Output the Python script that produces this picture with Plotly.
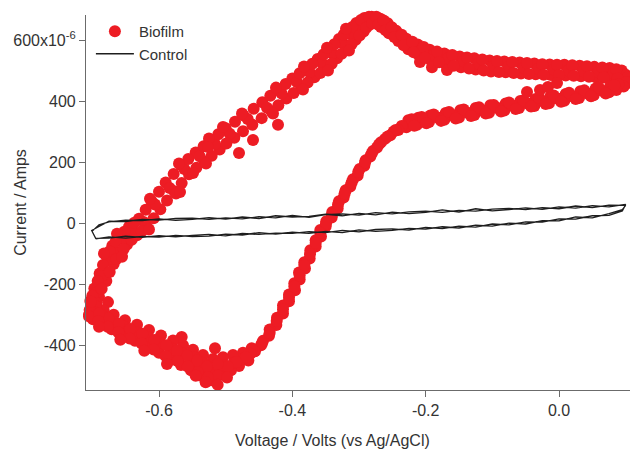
import plotly.graph_objects as go

# Cyclic voltammogram: biofilm electrode (markers) vs. bare control electrode (line)
# Potential in V vs Ag/AgCl, current in microamps (axis labelled x10^-6 A)

# --- Biofilm: anodic sweep, -0.70 V -> +0.10 V (upper branch with the oxidation peak)
biofilm_anodic_v = [
    -0.703, -0.699, -0.705, -0.697,
    -0.697, -0.690, -0.694,
    -0.689, -0.679, -0.685,
    -0.679, -0.668, -0.672,
    -0.670, -0.659, -0.665,
    -0.660, -0.648, -0.655,
    -0.645, -0.633, -0.640,
    -0.630, -0.618, -0.623,
    -0.611, -0.598, -0.606,
    -0.590, -0.577, -0.584,
    -0.567, -0.555, -0.562,
    -0.545, -0.532, -0.539,
    -0.523, -0.509, -0.516,
    -0.500, -0.487, -0.494, -0.480,
    -0.473, -0.460, -0.467,
    -0.445, -0.431, -0.438, -0.4215,
    -0.422, -0.409, -0.416,
    -0.400, -0.386, -0.393,
    -0.380, -0.367, -0.374,
    -0.362, -0.349, -0.355,
    -0.345, -0.333, -0.340,
    -0.330, -0.318, -0.324,
    -0.316, -0.305, -0.311,
    -0.304, -0.293, -0.299,
    -0.292, -0.284, -0.288,
    -0.281, -0.276, -0.272,
    -0.268, -0.267, -0.262,
    -0.257, -0.255, -0.251,
    -0.244, -0.241, -0.238,
    -0.229, -0.226, -0.222,
    -0.212, -0.210, -0.206, -0.2085,
    -0.194, -0.192, -0.188, -0.1905,
    -0.172, -0.170, -0.166, -0.168,
    -0.149, -0.147, -0.143,
    -0.127, -0.125, -0.121,
    -0.104, -0.102, -0.098,
    -0.082, -0.080, -0.076,
    -0.059, -0.057, -0.053,
    -0.037, -0.035, -0.031,
    -0.014, -0.012, -0.008,
    0.008, 0.010, 0.014,
    0.031, 0.033, 0.037,
    0.053, 0.055, 0.059,
    0.076, 0.078, 0.082,
    0.094, 0.097, 0.100,
    0.103, 0.104,
]
biofilm_anodic_i = [
    -255, -285, -300, -262,
    -214, -241, -228,
    -165, -190, -172,
    -108, -134, -118,
    -74, -101, -92,
    -43, -70, -52,
    -12, -40, -23,
    14, -13, 4,
    72, 45, 61,
    133, 104, 115,
    190, 160, 177,
    231, 202, 219,
    270, 241, 259,
    311, 280, 293, 230,
    353, 322, 341,
    396, 366, 378, 322,
    438, 408, 425,
    474, 445, 462,
    507, 478, 494,
    538, 506, 523,
    570, 540, 556,
    603, 572, 589,
    631, 601, 618,
    656, 628, 645,
    672, 650, 662,
    676, 658, 671,
    670, 643, 660,
    655, 622, 640,
    630, 597, 612,
    604, 570, 590,
    585, 550, 566, 528,
    568, 534, 552, 511,
    556, 521, 540, 502,
    546, 511, 530,
    540, 503, 522,
    533, 497, 516,
    530, 494, 512,
    526, 490, 509,
    523, 488, 506,
    520, 485, 503,
    519, 484, 500,
    516, 481, 497,
    512, 478, 494,
    508, 476, 490,
    500, 472, 486,
    478, 460,
]
# further anodic-sweep samples lying between the ones above
biofilm_anodic_fill_v = [
    -0.700, -0.694, -0.692, -0.686, -0.684, -0.674, -0.674, -0.664,
    -0.665, -0.653, -0.652, -0.641, -0.637, -0.626, -0.620, -0.608,
    -0.600, -0.588, -0.578, -0.566, -0.556, -0.544, -0.533, -0.521,
    -0.511, -0.499, -0.486, -0.474, -0.458, -0.446, -0.433, -0.421,
    -0.410, -0.398, -0.389, -0.377, -0.370, -0.358, -0.353, -0.341,
    -0.337, -0.326, -0.323, -0.311, -0.310, -0.299, -0.297, -0.289,
    -0.285, -0.280, -0.274, -0.271, -0.263, -0.260, -0.251, -0.247,
    -0.236, -0.233, -0.220, -0.218, -0.203, -0.201, -0.183, -0.180,
    -0.160, -0.158, -0.138, -0.135, -0.115, -0.113, -0.093, -0.090,
    -0.070, -0.068, -0.048, -0.045, -0.025, -0.023, -0.003, 0.000,
    0.020, 0.022, 0.042, 0.045, 0.065, 0.067, 0.086, 0.088,
]
biofilm_anodic_fill_i = [
    -238, -262, -190, -215, -137, -160, -92, -118,
    -60, -85, -28, -55, 1, -27, 44, 16,
    103, 74, 161, 131, 210, 181, 252, 221,
    291, 261, 332, 301, 375, 344, 417, 386,
    456, 426, 491, 461, 522, 492, 553, 522,
    586, 555, 617, 587, 643, 615, 666, 640,
    676, 655, 676, 650, 664, 632, 642, 610,
    617, 583, 594, 560, 577, 542, 562, 527,
    551, 516, 543, 507, 536, 500, 531, 495,
    528, 492, 525, 489, 521, 486, 519, 485,
    517, 483, 514, 480, 510, 477, 504, 474,
]
# scattered samples on both edges of the rising anodic branch
biofilm_anodic_edge_v = [
    -0.6825, -0.663, -0.6135, -0.570, -0.525, -0.4755, -0.4245, -0.3825,
    -0.348, -0.3195, -0.504, -0.5265,
    -0.6555, -0.615, -0.5745, -0.5295, -0.429, -0.384, -0.3465, -0.315,
    -0.459, -0.549, -0.5685,
]
biofilm_anodic_edge_i = [
    -100, -35, 80, 195, 277, 359, 444, 513,
    575, 637, 315, 249,
    -110, -21, 97, 195, 359, 438, 500, 566,
    272, 164, 102,
]

# --- Biofilm: cathodic sweep, flat part near +0.1 V back to about -0.23 V
biofilm_return_v = [
    0.101, 0.097, 0.089, 0.086, 0.077, 0.075, 0.055, 0.052,
    0.032, 0.030, 0.010, 0.008, -0.013, -0.015, -0.035, -0.037,
    -0.058, -0.060, -0.080, -0.082, -0.103, -0.105, -0.125, -0.127,
    -0.148, -0.150, -0.170, -0.172, -0.193, -0.195, -0.211, -0.213,
    -0.226, -0.229,
    0.065, 0.043, 0.020, -0.002, -0.025, -0.047, -0.070, -0.092,
    -0.115, -0.137, -0.160, -0.182, -0.203, -0.219,
    0.083, 0.060, 0.038, 0.015, -0.008, -0.030, -0.053, -0.075,
    -0.098, -0.120, -0.143, -0.165, -0.188, -0.206, -0.221,
    0.070, 0.048, 0.025, 0.003, -0.020, -0.042, -0.065, -0.087,
    -0.110, -0.132, -0.155, -0.177, -0.199, -0.217,
    -0.048, -0.0285, -0.0165, -0.003,
]
biofilm_return_i = [
    462, 448, 455, 436, 449, 429, 441, 419,
    432, 410, 423, 401, 415, 393, 407, 384,
    400, 377, 392, 369, 386, 362, 377, 354,
    370, 346, 361, 339, 353, 331, 345, 322,
    337, 314,
    434, 425, 416, 408, 400, 392, 385, 377,
    370, 362, 354, 346, 338, 330,
    452, 444, 435, 427, 418, 410, 402, 395,
    387, 380, 372, 364, 356, 348, 340,
    425, 416, 407, 398, 390, 382, 374, 366,
    359, 351, 343, 335, 327, 319,
    430, 436, 446, 459,
]

# --- Biofilm: cathodic sweep, steep reduction branch
biofilm_reduction_v = [
    -0.236, -0.241, -0.248, -0.253, -0.261, -0.267, -0.273, -0.279,
    -0.283, -0.290, -0.292, -0.299, -0.302, -0.309, -0.313, -0.320,
    -0.323, -0.330, -0.332, -0.340, -0.341, -0.349, -0.350, -0.358,
    -0.357, -0.365, -0.365, -0.373, -0.374, -0.382, -0.381, -0.390,
    -0.389, -0.397, -0.396, -0.405, -0.405, -0.414, -0.414, -0.423,
    -0.424, -0.434, -0.435, -0.444, -0.447, -0.456,
    -0.245, -0.257, -0.270, -0.281, -0.291, -0.301, -0.311, -0.3215,
    -0.3315, -0.3405, -0.3495, -0.358, -0.365, -0.3735, -0.382, -0.389,
    -0.397, -0.405, -0.414, -0.4235, -0.434, -0.4455, -0.457,
]
biofilm_reduction_i = [
    318, 305, 300, 288, 276, 265, 248, 236,
    218, 206, 188, 177, 156, 144, 120, 108,
    84, 72, 48, 36, 18, 6, -11, -23,
    -44, -56, -77, -89, -116, -128, -149, -162,
    -185, -197, -220, -234, -256, -270, -296, -310,
    -334, -349, -369, -386, -400, -420,
    305, 284, 258, 228, 199, 168, 133, 97,
    61, 28, -1, -32, -65, -101, -137, -172,
    -208, -244, -282, -321, -359, -394, -420,
]

# --- Biofilm: broad reduction trough back towards -0.70 V
biofilm_trough_v = [
    -0.461, -0.466, -0.463,
    -0.474, -0.480, -0.477,
    -0.489, -0.492, -0.488,
    -0.504, -0.507, -0.503, -0.509,
    -0.519, -0.522, -0.518, -0.524, -0.516,
    -0.534, -0.537, -0.533, -0.538,
    -0.549, -0.552, -0.548, -0.553,
    -0.564, -0.567, -0.563, -0.566,
    -0.579, -0.582, -0.580,
    -0.597, -0.600, -0.598,
    -0.615, -0.618, -0.616,
    -0.633, -0.636, -0.634,
    -0.651, -0.654, -0.652,
    -0.668, -0.671, -0.669, -0.6765,
    -0.683, -0.686, -0.684,
    -0.695, -0.699, -0.696,
    -0.704, -0.702, -0.705,
    -0.470, -0.484, -0.497, -0.512, -0.5115, -0.528, -0.527, -0.543,
    -0.542, -0.558, -0.557, -0.573, -0.572, -0.589, -0.590, -0.607,
    -0.608, -0.625, -0.626, -0.643, -0.644, -0.660, -0.661, -0.676,
    -0.677, -0.690, -0.691,
    -0.498, -0.530, -0.545, -0.512, -0.588, -0.622, -0.658, -0.690,
]
biofilm_trough_i = [
    -410, -450, -428,
    -425, -468, -446,
    -432, -482, -458,
    -440, -494, -465, -480,
    -445, -515, -472, -495, -410,
    -432, -500, -460, -478,
    -415, -482, -440, -460,
    -400, -465, -428, -373,
    -385, -448, -412,
    -368, -425, -392,
    -350, -405, -375,
    -333, -386, -358,
    -318, -368, -340,
    -300, -348, -322, -259,
    -285, -330, -305,
    -272, -315, -292,
    -285, -258, -305,
    -440, -455, -470, -462, -500, -470, -505, -450,
    -488, -435, -470, -418, -452, -400, -436, -383,
    -414, -363, -395, -347, -378, -330, -358, -312,
    -340, -296, -322,
    -506, -522, -500, -530, -462, -418, -382, -340,
]

# --- Control electrode: two cycles on a shared potential grid
ctrl_fwd_v = [
    -0.701, -0.690, -0.675, -0.650, -0.625, -0.600, -0.575, -0.550, -0.525,
    -0.500, -0.475, -0.450, -0.425, -0.400, -0.375, -0.350, -0.325, -0.300,
    -0.275, -0.250, -0.225, -0.200, -0.175, -0.150, -0.125, -0.100, -0.075,
    -0.050, -0.025, 0.000, 0.025, 0.050, 0.075, 0.100,
]
ctrl_fwd1_i = [
    -28, -6, 4, 10, 8, 14, 9, 12, 18,
    13, 20, 15, 24, 20, 22, 29, 24, 32,
    27, 36, 31, 35, 43, 36, 47, 40, 44,
    50, 45, 53, 49, 57, 53, 61,
]
ctrl_fwd2_i = [
    -24, -11, 6, 5, 12, 10, 15, 16, 12,
    17, 14, 21, 17, 25, 19, 28, 30, 26,
    34, 30, 37, 39, 35, 42, 39, 46, 48,
    44, 51, 47, 56, 51, 59, 58,
]
ctrl_rev_v = [
    0.095, 0.075, 0.050, 0.025, 0.000, -0.025, -0.050, -0.075, -0.100,
    -0.125, -0.150, -0.175, -0.200, -0.225, -0.250, -0.275, -0.300, -0.325,
    -0.350, -0.375, -0.400, -0.425, -0.450, -0.475, -0.500, -0.525, -0.550,
    -0.575, -0.600, -0.625, -0.650, -0.675, -0.695,
]
ctrl_rev1_i = [
    40, 25, 24, 13, 14, 3, 4, -6, -3,
    -13, -10, -18, -14, -23, -19, -21, -29, -24,
    -31, -28, -34, -33, -37, -34, -42, -37, -40,
    -45, -41, -47, -43, -49, -50,
]
ctrl_rev2_i = [
    44, 31, 17, 20, 7, 8, -3, 0, -10,
    -7, -16, -12, -20, -17, -24, -27, -22, -31,
    -27, -34, -30, -36, -31, -39, -36, -43, -44,
    -40, -46, -44, -49, -45, -52,
]

# Axis ticks
x_ticks = [-0.6, -0.4, -0.2, 0.0]
x_ticklabels = ["-0.6", "-0.4", "-0.2", "0.0"]
y_ticks = [-400, -200, 0, 200, 400, 600]
y_ticklabels = ["-400", "-200", "0", "200", "400", "600x10<sup>-6</sup>"]

biofilm_v = (biofilm_anodic_v + biofilm_anodic_fill_v + biofilm_anodic_edge_v
             + biofilm_return_v + biofilm_reduction_v + biofilm_trough_v)
biofilm_i = (biofilm_anodic_i + biofilm_anodic_fill_i + biofilm_anodic_edge_i
             + biofilm_return_i + biofilm_reduction_i + biofilm_trough_i)
control_v = ctrl_fwd_v + ctrl_rev_v + ctrl_fwd_v + ctrl_rev_v
control_i = ctrl_fwd1_i + ctrl_rev1_i + ctrl_fwd2_i + ctrl_rev2_i

FONT = "Arial, Liberation Sans, sans-serif"
TEXT = "#333333"
AXIS = "#6b6b6b"

fig = go.Figure()
fig.add_trace(go.Scatter(
    x=biofilm_v, y=biofilm_i, mode="markers", name="Biofilm",
    marker=dict(color="#ED1C24", size=12, line=dict(width=0)),
    cliponaxis=False,
))
fig.add_trace(go.Scatter(
    x=control_v, y=control_i, mode="lines", name="Control",
    line=dict(color="#1e1e1e", width=1.3),
))

axis_common = dict(
    showline=True, linecolor=AXIS, linewidth=1.2,
    ticks="outside", ticklen=6, tickcolor=AXIS, tickwidth=1.2,
    showgrid=False, zeroline=False,
    tickfont=dict(family=FONT, size=16, color=TEXT),
)

fig.update_layout(
    width=630, height=450,
    margin=dict(l=86, r=0, t=15, b=60),
    paper_bgcolor="white", plot_bgcolor="white",
    xaxis=dict(range=[-0.7095, 0.1065], tickvals=x_ticks, ticktext=x_ticklabels, **axis_common),
    yaxis=dict(range=[-547, 682], tickvals=y_ticks, ticktext=y_ticklabels, **axis_common),
    showlegend=True,
    legend=dict(
        x=0.009, y=1.0, xanchor="left", yanchor="top",
        bgcolor="rgba(0,0,0,0)", borderwidth=0,
        font=dict(family=FONT, size=15, color=TEXT),
        tracegroupgap=0, itemwidth=38,
    ),
    annotations=[
        dict(text="Current / Amps", textangle=-90, xref="paper", yref="paper",
             x=-0.14, y=0.5, showarrow=False,
             font=dict(family=FONT, size=16, color=TEXT)),
        dict(text="Voltage / Volts (vs Ag/AgCl)", xref="paper", yref="paper",
             x=0.454, y=-0.162, showarrow=False,
             font=dict(family=FONT, size=16, color=TEXT)),
    ],
)

fig.write_html("out.html")
